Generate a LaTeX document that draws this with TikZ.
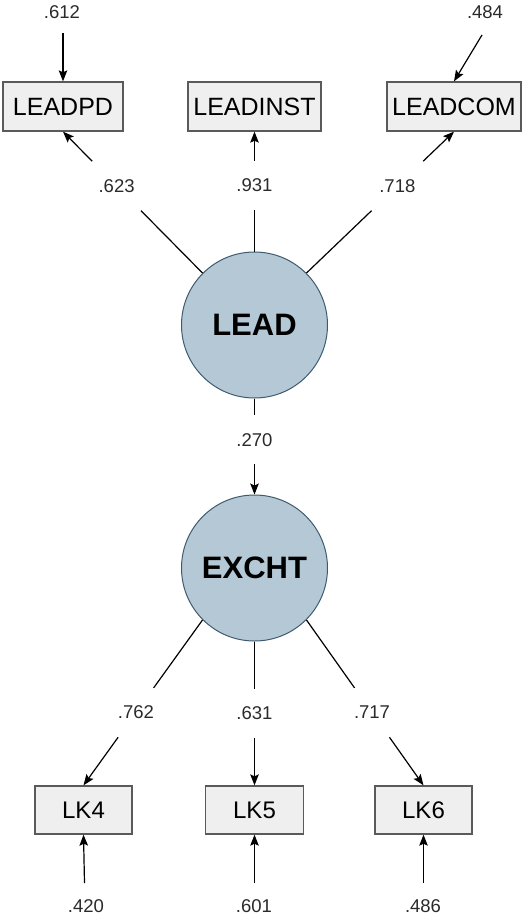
\documentclass[tikz,border=0pt]{standalone}
\usepackage{fontspec}
\setmainfont{Liberation Sans}
\usetikzlibrary{arrows.meta,calc}
\definecolor{boxfill}{HTML}{EFEFEF}
\definecolor{boxdraw}{HTML}{5A5A5A}
\definecolor{latfill}{HTML}{B5C8D6}
\definecolor{latdraw}{HTML}{3F5B70}
\definecolor{numcol}{HTML}{2A2A2A}
\begin{document}
\begin{tikzpicture}[x=1pt,y=-1pt,
  obs/.style={draw=boxdraw, fill=boxfill, line width=1.3pt, minimum height=49pt, inner sep=0pt, font=\fontsize{25}{29}\selectfont},
  lat/.style={circle, draw=latdraw, fill=latfill, line width=1pt, minimum size=146pt, inner sep=0pt, font=\fontsize{31}{36}\selectfont\bfseries},
  coef/.style={minimum height=49pt, minimum width=60pt, inner sep=0pt, text=numcol, font=\fontsize{18.5}{22}\selectfont},
  errlab/.style={inner sep=0pt, text=numcol, font=\fontsize{18.5}{22}\selectfont},
  link/.style={line width=1.2pt},
  arr/.style={line width=1.2pt, -{Stealth[length=11pt,width=8.5pt,inset=2pt]}}
]
\fill[white] (0,0) rectangle (526,916);
\useasboundingbox (0,0) rectangle (526,916);

% observed indicators
\node[obs, minimum width=120pt] (LEADPD) at (63,106.5) {LEADPD};
\node[obs, minimum width=133pt] (LEADINST) at (254.5,106.5) {LEADINST};
\node[obs, minimum width=134pt] (LEADCOM) at (454,106.5) {LEADCOM};
\node[obs, minimum width=97pt, minimum height=48pt, font=\fontsize{24}{28}\selectfont] (LK4) at (83.5,810) {LK4};
\node[obs, minimum width=98pt, minimum height=48pt, font=\fontsize{24}{28}\selectfont] (LK5) at (254.5,810) {LK5};
\node[obs, minimum width=97pt, minimum height=48pt, font=\fontsize{24}{28}\selectfont] (LK6) at (423.5,810) {LK6};

% latent variables
\node[lat] (LEAD) at (254.5,325) {LEAD};
\node[lat] (EXCHT) at (254.5,568) {EXCHT};

% loading labels
\path (LEAD.135) -- (LEADPD.south) node[coef, pos=0.616] (l623) {.623};
\path (LEAD.90) -- (LEADINST.south) node[coef, pos=0.55] (l931) {.931};
\path (LEAD.45) -- (LEADCOM.south) node[coef, pos=0.616] (l718) {.718};
\path (LEAD.south) -- (EXCHT.north) node[coef, pos=0.43] (l270) {.270};
\path (EXCHT.225) -- (LK4.north) node[coef, pos=0.56] (l762) {.762};
\path (EXCHT.270) -- (LK5.north) node[coef, pos=0.50] (l631) {.631};
\path (EXCHT.315) -- (LK6.north) node[coef, pos=0.56] (l717) {.717};

% loading connectors
\draw[link] (LEAD.135) -- (l623);
\draw[arr] (l623) -- (LEADPD.south);
\draw[link] (LEAD.90) -- (l931);
\draw[arr] (l931) -- (LEADINST.south);
\draw[link] (LEAD.45) -- (l718);
\draw[arr] (l718) -- (LEADCOM.south);
\draw[link] (LEAD.south) -- (l270);
\draw[arr] (l270) -- (EXCHT.north);
\draw[link] (EXCHT.225) -- (l762);
\draw[arr] (l762) -- (LK4.north);
\draw[link] (EXCHT.270) -- (l631);
\draw[arr] (l631) -- (LK5.north);
\draw[link] (EXCHT.315) -- (l717);
\draw[arr] (l717) -- (LK6.north);

% error terms
\node[errlab] (e612) at (62,12) {.612};
\node[errlab] (e484) at (485,12) {.484};
\node[errlab] (e420) at (86,906) {.420};
\node[errlab] (e601) at (254,906) {.601};
\node[errlab] (e486) at (423,906) {.486};
\coordinate (s612) at (63,33);
\coordinate (s484) at (482,35);
\coordinate (s420) at (84.5,883);
\coordinate (s601) at (254.5,883);
\coordinate (s486) at (423.5,883);
\draw[arr] (s612) -- (LEADPD.north);
\draw[arr] (s484) -- (LEADCOM.north);
\draw[arr] (s420) -- (LK4.south);
\draw[arr] (s601) -- (LK5.south);
\draw[arr] (s486) -- (LK6.south);
\end{tikzpicture}
\end{document}
